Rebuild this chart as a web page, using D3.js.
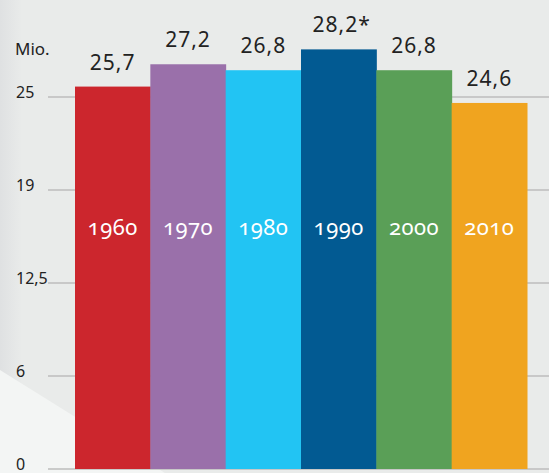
<!DOCTYPE html>
<html>
<head>
<meta charset="utf-8">
<script src="https://cdn.jsdelivr.net/npm/d3@7/dist/d3.min.js"></script>
<style>
  html, body { margin: 0; padding: 0; background: #e9ebea; }
  svg { display: block; }
  .year { font-family: "Noto Sans", "Open Sans", sans-serif; font-feature-settings: "onum" 1; font-variant-numeric: oldstyle-nums; }
</style>
</head>
<body>
<script>
const categories = ["1960", "1970", "1980", "1990", "2000", "2010"];
const values = [25.7, 27.2, 26.8, 28.2, 26.8, 24.6];
const valueLabels = ["25,7", "27,2", "26,8", "28,2*", "26,8", "24,6"];
const colors = ["#cc262d", "#9a70aa", "#22c4f3", "#025a92", "#5a9f57", "#f0a41f"];
const tickValues = [0, 6.25, 12.5, 18.75, 25];
const tickLabels = ["0", "6", "12,5", "19", "25"];
const unitLabel = "Mio.";

const W = 549, H = 473;
const svg = d3.select("body").append("svg").attr("width", W).attr("height", H);

// background
const defs = svg.append("defs");
const lg = defs.append("linearGradient").attr("id", "leftShade").attr("x1", 0).attr("x2", 1).attr("y1", 0).attr("y2", 0);
lg.append("stop").attr("offset", "0%").attr("stop-color", "#dfe1e2");
lg.append("stop").attr("offset", "100%").attr("stop-color", "#e9ebea");
svg.append("rect").attr("width", W).attr("height", H).attr("fill", "#e9ebea");
svg.append("rect").attr("width", 22).attr("height", H).attr("fill", "url(#leftShade)");
svg.append("polygon").attr("points", "0,370 165,473 0,473").attr("fill", "#f3f5f4");

const x = d3.scaleBand().domain(categories).range([75, 527]).padding(0);
const y = d3.scaleLinear().domain([0, 25]).range([469, 97]);

// gridlines
svg.append("g").selectAll("line").data(tickValues).join("line")
  .attr("x1", 48).attr("x2", W)
  .attr("y1", d => y(d)).attr("y2", d => y(d))
  .attr("stroke", "#bcbdbd").attr("stroke-width", 1.6);

// tick labels
svg.append("g").selectAll("text").data(tickValues).join("text")
  .attr("x", 16).attr("y", d => y(d) + 0.5)
  .attr("font-family", "'Noto Sans', sans-serif").attr("font-size", 16)
  .attr("fill", "#222")
  .text((d, i) => tickLabels[i]);

svg.append("text").attr("x", 15).attr("y", 55)
  .attr("font-family", "'Noto Sans', sans-serif").attr("font-size", 17)
  .attr("fill", "#222").text(unitLabel);

// bars
svg.append("g").selectAll("rect").data(values).join("rect")
  .attr("x", (d, i) => x(categories[i]))
  .attr("width", x.bandwidth() + 0.5)
  .attr("y", d => y(d))
  .attr("height", d => y(0) - y(d))
  .attr("fill", (d, i) => colors[i]);

// value labels
svg.append("g").selectAll("text").data(values).join("text")
  .attr("x", (d, i) => x(categories[i]) + x.bandwidth() / 2 + (i === 3 ? 3 : 0))
  .attr("y", d => y(d) - 17)
  .attr("text-anchor", "middle")
  .attr("font-family", "'Noto Sans', sans-serif").attr("font-size", 21)
  .attr("letter-spacing", 1)
  .attr("fill", "#222")
  .text((d, i) => valueLabels[i]);

// year labels
svg.append("g").selectAll("text").data(categories).join("text")
  .attr("class", "year")
  .attr("x", d => x(d) + x.bandwidth() / 2)
  .attr("y", 235)
  .attr("text-anchor", "middle")
  .attr("font-size", 22)
  .attr("letter-spacing", 0.5)
  .attr("fill", "#ffffff")
  .text(d => d);
</script>
</body>
</html>
